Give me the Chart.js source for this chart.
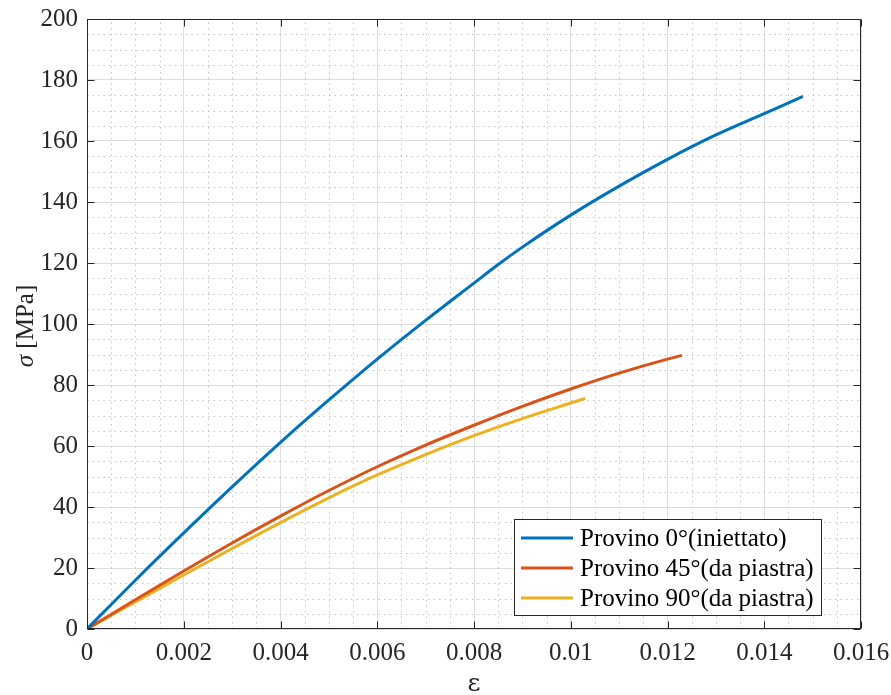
<!DOCTYPE html>
<html>
<head>
<meta charset="utf-8">
<script src="https://cdn.jsdelivr.net/npm/chart.js@4.4.1/dist/chart.umd.min.js"></script>
<style>
html,body{margin:0;padding:0;background:#fff;}
#wrap{width:891px;height:695px;position:relative;}
</style>
</head>
<body>
<div id="wrap"><canvas id="c" width="891" height="695"></canvas></div>
<script>
// ---- data ----
const seriesLabels = ["Provino 0°(iniettato)", "Provino 45°(da piastra)", "Provino 90°(da piastra)"];
const strain0  = [0, 0.001, 0.002, 0.003, 0.004, 0.005, 0.006, 0.007, 0.008, 0.0085, 0.009, 0.010, 0.011, 0.012, 0.013, 0.014, 0.0148];
const stress0  = [0, 16.0, 31.5, 46.6, 61.2, 75.1, 88.5, 101.2, 113.4, 119.5, 125.2, 135.7, 145.2, 154.0, 162.0, 169.0, 174.6];
const strain45 = [0, 0.001, 0.002, 0.003, 0.004, 0.005, 0.006, 0.007, 0.008, 0.009, 0.010, 0.011, 0.012, 0.0123];
const stress45 = [0, 9.6, 19.0, 28.2, 37.0, 45.4, 53.2, 60.3, 66.8, 73.0, 78.7, 83.9, 88.5, 89.7];
const strain90 = [0, 0.001, 0.002, 0.003, 0.004, 0.005, 0.006, 0.007, 0.008, 0.009, 0.010, 0.0103];
const stress90 = [0, 8.9, 17.7, 26.4, 34.9, 43.0, 50.5, 57.2, 63.4, 69.0, 74.1, 75.6];
const xTicks = [0, 0.002, 0.004, 0.006, 0.008, 0.01, 0.012, 0.014, 0.016];
const yTicks = [0, 20, 40, 60, 80, 100, 120, 140, 160, 180, 200];
const xTickLabels = ["0", "0.002", "0.004", "0.006", "0.008", "0.01", "0.012", "0.014", "0.016"];
const xTitle = "ε";
const yTitleSymbol = "σ";
const yTitleUnit = " [MPa]";

const colors = ["#0072BD", "#D95319", "#EDB120"];
const serif = "'Liberation Serif', 'Times New Roman', serif";
const FS = 25;

function pts(xs, ys){ return xs.map((x,i)=>({x:x, y:ys[i]})); }

const minorGrid = {
  id: 'minorGrid',
  beforeDatasetsDraw(chart){
    const {ctx, chartArea:a, scales:{x, y}} = chart;
    ctx.save();
    ctx.strokeStyle = '#c4c4c4';
    ctx.lineWidth = 1;
    ctx.setLineDash([1.5, 4]);
    for (let i = 1; i < 32; i++) {
      if (i % 4 === 0) continue;
      const px = Math.round(x.getPixelForValue(i * 0.0005)) + 0.5;
      ctx.beginPath(); ctx.moveTo(px, a.bottom); ctx.lineTo(px, a.top); ctx.stroke();
    }
    for (let i = 1; i < 40; i++) {
      if (i % 4 === 0) continue;
      const py = Math.round(y.getPixelForValue(i * 5)) + 0.5;
      ctx.beginPath(); ctx.moveTo(a.left, py); ctx.lineTo(a.right, py); ctx.stroke();
    }
    ctx.restore();
  }
};

const boxTicks = {
  id: 'boxTicks',
  afterDatasetsDraw(chart){
    const {ctx, chartArea:a, scales:{x, y}} = chart;
    ctx.save();
    ctx.strokeStyle = '#262626';
    ctx.lineWidth = 1;
    ctx.setLineDash([]);
    const L = Math.round(a.left)+0.5, R = Math.round(a.right)-0.5, T = Math.round(a.top)+0.5, B = Math.round(a.bottom)-0.5;
    ctx.strokeRect(L, T, R - L, B - T);
    const tl = 7;
    xTicks.forEach(v => {
      const px = Math.round(x.getPixelForValue(v)) + 0.5;
      ctx.beginPath(); ctx.moveTo(px, B); ctx.lineTo(px, B - tl); ctx.moveTo(px, T); ctx.lineTo(px, T + tl); ctx.stroke();
    });
    yTicks.forEach(v => {
      const py = Math.round(y.getPixelForValue(v)) + 0.5;
      ctx.beginPath(); ctx.moveTo(L, py); ctx.lineTo(L + tl, py); ctx.moveTo(R, py); ctx.lineTo(R - tl, py); ctx.stroke();
    });
    ctx.restore();
  },
  afterDraw(chart){
    const {ctx, chartArea:a} = chart;
    ctx.save();
    // x title
    ctx.fillStyle = '#262626';
    ctx.font = "25px 'DejaVu Serif', serif";
    ctx.textAlign = 'center';
    ctx.textBaseline = 'alphabetic';
    ctx.fillText(xTitle, (a.left + a.right) / 2, 691);
    // y title
    ctx.translate(33, 326);
    ctx.rotate(-Math.PI / 2);
    ctx.font = "italic " + FS + "px " + serif;
    const w1 = ctx.measureText(yTitleSymbol).width;
    ctx.font = FS + "px " + serif;
    const w2 = ctx.measureText(yTitleUnit).width;
    let sx = -(w1 + w2) / 2;
    ctx.textAlign = 'left';
    ctx.font = "italic " + FS + "px " + serif;
    ctx.fillText(yTitleSymbol, sx, 0);
    ctx.font = FS + "px " + serif;
    ctx.fillText(yTitleUnit, sx + w1, 0);
    ctx.restore();

    // legend
    ctx.save();
    const lx = 514.5, ly = 519.5, lw = 307, lh = 96;
    ctx.fillStyle = '#ffffff';
    ctx.fillRect(lx, ly, lw, lh);
    ctx.strokeStyle = '#262626';
    ctx.lineWidth = 1;
    ctx.strokeRect(lx, ly, lw, lh);
    ctx.font = FS + "px " + serif;
    ctx.textBaseline = 'middle';
    ctx.textAlign = 'left';
    chart.data.datasets.forEach((ds, i) => {
      const cy = 538 + i * 30;
      ctx.strokeStyle = ds.borderColor;
      ctx.lineWidth = 3;
      ctx.beginPath(); ctx.moveTo(521, cy); ctx.lineTo(573, cy); ctx.stroke();
      ctx.fillStyle = '#000';
      ctx.fillText(ds.label, 580, cy + 1);
    });
    ctx.restore();
  }
};

new Chart(document.getElementById('c'), {
  type: 'line',
  data: {
    datasets: [
      {label: seriesLabels[0], data: pts(strain0, stress0), borderColor: colors[0]},
      {label: seriesLabels[1], data: pts(strain45, stress45), borderColor: colors[1]},
      {label: seriesLabels[2], data: pts(strain90, stress90), borderColor: colors[2]}
    ].map(d => Object.assign(d, {borderWidth: 3, pointRadius: 0, fill: false, cubicInterpolationMode: 'monotone', backgroundColor: d.borderColor}))
  },
  options: {
    responsive: false,
    animation: false,
    devicePixelRatio: 1,
    layout: {padding: {top: 19, right: 30, left: 0, bottom: 0}},
    plugins: {legend: {display: false}, tooltip: {enabled: false}},
    scales: {
      x: {
        type: 'linear', min: 0, max: 0.016,
        afterFit(s){ s.height = 66; s.paddingLeft = 0; s.paddingRight = 0; },
        afterBuildTicks(s){ s.ticks = xTicks.map(v => ({value: v})); },
        ticks: {
          font: {family: serif, size: FS}, color: '#262626', padding: 9, maxRotation: 0,
          callback: (v) => { const i = xTicks.indexOf(v); return i >= 0 ? xTickLabels[i] : ''; }
        },
        grid: {color: '#dedede', drawTicks: false, lineWidth: 1},
        border: {display: false}
      },
      y: {
        type: 'linear', min: 0, max: 200,
        afterFit(s){ s.width = 87; s.paddingTop = 0; s.paddingBottom = 0; },
        afterBuildTicks(s){ s.ticks = yTicks.map(v => ({value: v})); },
        ticks: {font: {family: serif, size: FS}, color: '#262626', padding: 9},
        grid: {color: '#dedede', drawTicks: false, lineWidth: 1},
        border: {display: false}
      }
    }
  },
  plugins: [minorGrid, boxTicks]
});
</script>
</body>
</html>
